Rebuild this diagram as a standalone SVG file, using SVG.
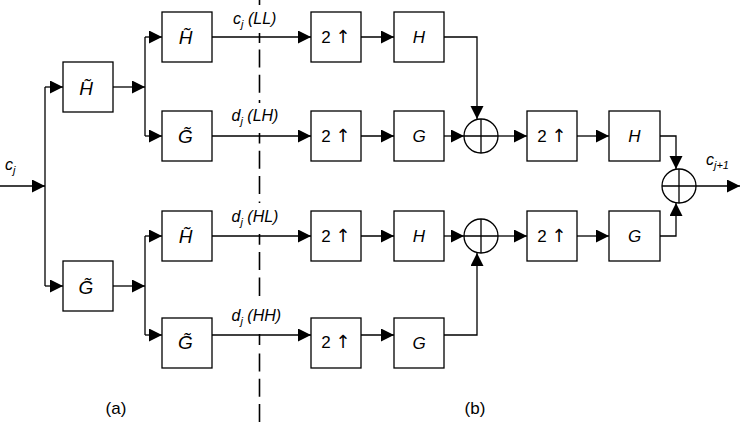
<svg xmlns="http://www.w3.org/2000/svg" width="740" height="430" viewBox="0 0 740 430">
<style>
.box{fill:#fff;stroke:#000;stroke-width:1.3}
.sum{fill:#fff;stroke:#000;stroke-width:1.3}
.wire{fill:none;stroke:#000;stroke-width:1.3}
.dash{fill:none;stroke:#000;stroke-width:1.6}
text{font-family:"Liberation Sans",Arial,sans-serif;fill:#000}
.fl{font-size:19px;font-style:italic;text-anchor:middle}
.fr{font-size:17px;font-style:italic;text-anchor:middle}
.up{font-size:17px;text-anchor:middle}
.ar{font-family:"DejaVu Sans";font-size:18px;fill:#000}
.lbl{font-size:16px;font-style:italic}
.sub{font-size:11px}
.cap{font-size:17px;text-anchor:middle}
</style>
<defs>
<marker id="ah" markerUnits="userSpaceOnUse" markerWidth="14" markerHeight="14" refX="13" refY="6.5" orient="auto">
<path d="M0,0 L13,6.5 L0,13 z" fill="#000"/>
</marker>
</defs>
<rect width="740" height="430" fill="#fff"/>
<path class="dash" d="M259.5,0 V5 M259.5,33 V43 M259.5,49.4 V67.4 M259.5,74.7 V92.7 M259.5,100 V103 M259.5,133 V143.4 M259.5,150.7 V168.7 M259.5,176 V194 M259.5,201.4 V203 M259.5,234 V244.7 M259.5,252 V270 M259.5,277.4 V296 M259.5,334 V345 M259.5,353.4 V371.4 M259.5,378.7 V396.7 M259.5,404 V422"/>
<g id="connectors">
<path class="wire" d="M0,186 H45" marker-end="url(#ah)"/>
<path class="wire" d="M45,87 V286"/>
<path class="wire" d="M45,87 H63" marker-end="url(#ah)"/>
<path class="wire" d="M45,286 H63" marker-end="url(#ah)"/>
<path class="wire" d="M113,87 H145" marker-end="url(#ah)"/>
<path class="wire" d="M145,37 V136"/>
<path class="wire" d="M145,37 H162" marker-end="url(#ah)"/>
<path class="wire" d="M145,136 H162" marker-end="url(#ah)"/>
<path class="wire" d="M113,286 H145" marker-end="url(#ah)"/>
<path class="wire" d="M145,236 V335"/>
<path class="wire" d="M145,236 H162" marker-end="url(#ah)"/>
<path class="wire" d="M145,335 H162" marker-end="url(#ah)"/>
<path class="wire" d="M212,37 H311" marker-end="url(#ah)"/>
<path class="wire" d="M361,37 H394" marker-end="url(#ah)"/>
<path class="wire" d="M444,37 H477 V119" marker-end="url(#ah)"/>
<path class="wire" d="M212,136 H311" marker-end="url(#ah)"/>
<path class="wire" d="M361,136 H394" marker-end="url(#ah)"/>
<path class="wire" d="M444,136 H464" marker-end="url(#ah)"/>
<path class="wire" d="M498,136 H527" marker-end="url(#ah)"/>
<path class="wire" d="M577,136 H609" marker-end="url(#ah)"/>
<path class="wire" d="M660,136 H676 V169" marker-end="url(#ah)"/>
<path class="wire" d="M212,236 H311" marker-end="url(#ah)"/>
<path class="wire" d="M361,236 H394" marker-end="url(#ah)"/>
<path class="wire" d="M444,236 H464" marker-end="url(#ah)"/>
<path class="wire" d="M498,236 H527" marker-end="url(#ah)"/>
<path class="wire" d="M577,236 H609" marker-end="url(#ah)"/>
<path class="wire" d="M660,236 H676 V203" marker-end="url(#ah)"/>
<path class="wire" d="M212,335 H311" marker-end="url(#ah)"/>
<path class="wire" d="M361,335 H394" marker-end="url(#ah)"/>
<path class="wire" d="M444,335 H477 V253" marker-end="url(#ah)"/>
<path class="wire" d="M696,186 H740" marker-end="url(#ah)"/>
</g>
<g id="an-H1"><rect class="box" x="63" y="62" width="50" height="50"/><text class="fl" x="86" y="94.5">H̃</text></g>
<g id="an-G1"><rect class="box" x="63" y="261" width="50" height="50"/><text class="fl" x="86" y="293.5">G̃</text></g>
<g id="an-HH"><rect class="box" x="162" y="12" width="50" height="50"/><text class="fl" x="185.5" y="43.5">H̃</text></g>
<g id="an-HG"><rect class="box" x="162" y="111" width="50" height="50"/><text class="fl" x="185.5" y="143">G̃</text></g>
<g id="an-GH"><rect class="box" x="162" y="211" width="50" height="50"/><text class="fl" x="185.5" y="243">H̃</text></g>
<g id="an-GG"><rect class="box" x="162" y="318" width="50" height="50"/><text class="fl" x="185.5" y="349">G̃</text></g>
<g id="up-LL"><rect class="box" x="311" y="12" width="50" height="50"/><text class="up" x="336" y="42.5">2 <tspan class="ar">↑</tspan></text></g>
<g id="up-LH"><rect class="box" x="311" y="111" width="50" height="50"/><text class="up" x="336" y="141.5">2 <tspan class="ar">↑</tspan></text></g>
<g id="up-HL"><rect class="box" x="311" y="211" width="50" height="50"/><text class="up" x="336" y="241.5">2 <tspan class="ar">↑</tspan></text></g>
<g id="up-HH"><rect class="box" x="311" y="318" width="50" height="50"/><text class="up" x="336" y="348">2 <tspan class="ar">↑</tspan></text></g>
<g id="syn-H1"><rect class="box" x="394" y="12" width="50" height="50"/><text class="fr" x="419" y="43">H</text></g>
<g id="syn-G1"><rect class="box" x="394" y="111" width="50" height="50"/><text class="fr" x="419" y="142">G</text></g>
<g id="syn-H2"><rect class="box" x="394" y="211" width="50" height="50"/><text class="fr" x="419" y="242">H</text></g>
<g id="syn-G2"><rect class="box" x="394" y="318" width="50" height="50"/><text class="fr" x="419" y="348.5">G</text></g>
<g id="sum1"><circle class="sum" cx="481" cy="136" r="17"/><path class="wire" d="M464,136 H498 M481,119 V153"/></g>
<g id="sum3"><circle class="sum" cx="481" cy="236" r="17"/><path class="wire" d="M464,236 H498 M481,219 V253"/></g>
<g id="up-L"><rect class="box" x="527" y="111" width="50" height="50"/><text class="up" x="552" y="141.5">2 <tspan class="ar">↑</tspan></text></g>
<g id="up-H"><rect class="box" x="527" y="211" width="50" height="50"/><text class="up" x="552" y="241.5">2 <tspan class="ar">↑</tspan></text></g>
<g id="syn-H3"><rect class="box" x="609" y="111" width="51" height="50"/><text class="fr" x="634.5" y="142">H</text></g>
<g id="syn-G3"><rect class="box" x="609" y="211" width="51" height="50"/><text class="fr" x="634.5" y="242">G</text></g>
<g id="sum2"><circle class="sum" cx="679" cy="186" r="17"/><path class="wire" d="M662,186 H696 M679,169 V203"/></g>
<g id="labels">
<text class="lbl" x="5" y="169.5">c<tspan class="sub" dy="4">j</tspan></text>
<text class="lbl" x="233" y="23.5">c<tspan class="sub" dy="4">j</tspan><tspan dy="-4"> (LL)</tspan></text>
<text class="lbl" x="231.5" y="121">d<tspan class="sub" dy="4">j</tspan><tspan dy="-4"> (LH)</tspan></text>
<text class="lbl" x="231.5" y="221.5">d<tspan class="sub" dy="4">j</tspan><tspan dy="-4"> (HL)</tspan></text>
<text class="lbl" x="231.5" y="320.5">d<tspan class="sub" dy="4">j</tspan><tspan dy="-4"> (HH)</tspan></text>
<text class="lbl" x="706" y="165">c<tspan class="sub" dy="4">j+1</tspan></text>
<text class="cap" x="116" y="414">(a)</text>
<text class="cap" x="475" y="414">(b)</text>
</g>
</svg>
